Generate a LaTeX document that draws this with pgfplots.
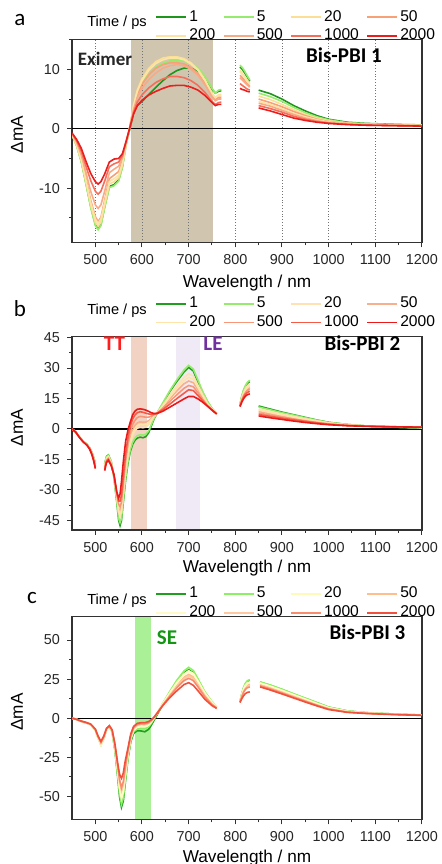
\documentclass[border=0pt]{standalone}
\usepackage{pgfplots}
\pgfplotsset{compat=1.18}
\usepackage{pgfplotstable}
\usepackage{fontspec}
\setmainfont{Liberation Sans}
\newfontfamily\calfont{Carlito}

\definecolor{axisgray}{RGB}{50,50,50}
\definecolor{ca1}{RGB}{30,150,30}
\definecolor{ca5}{RGB}{150,235,110}
\definecolor{ca20}{RGB}{253,222,150}
\definecolor{ca50}{RGB}{248,160,120}
\definecolor{ca200}{RGB}{253,228,165}
\definecolor{ca500}{RGB}{248,170,135}
\definecolor{ca1000}{RGB}{245,110,90}
\definecolor{ca2000}{RGB}{235,30,30}
\definecolor{cb1}{RGB}{30,160,30}
\definecolor{cb5}{RGB}{150,235,110}
\definecolor{cb20}{RGB}{255,225,180}
\definecolor{cb50}{RGB}{248,175,140}
\definecolor{cb200}{RGB}{255,228,170}
\definecolor{cb500}{RGB}{248,150,120}
\definecolor{cb1000}{RGB}{245,90,70}
\definecolor{cb2000}{RGB}{235,25,25}
\definecolor{cc1}{RGB}{30,160,30}
\definecolor{cc5}{RGB}{140,240,100}
\definecolor{cc20}{RGB}{255,250,185}
\definecolor{cc50}{RGB}{255,190,140}
\definecolor{cc200}{RGB}{255,250,200}
\definecolor{cc500}{RGB}{255,200,160}
\definecolor{cc1000}{RGB}{250,140,110}
\definecolor{cc2000}{RGB}{240,80,60}
\definecolor{bandA}{RGB}{208,198,175}
\definecolor{bandTT}{RGB}{242,210,195}
\definecolor{bandLE}{RGB}{240,234,246}
\definecolor{bandSE}{RGB}{170,240,150}

\pgfplotstableread{
nm s1 s5 s20 s50 s200 s500 s1000 s2000
450 -1.0 -1.0 -1.0 -1.0 -1.0 -0.9 -0.8 -0.7
460 -2.8 -2.9 -2.8 -2.6 -2.7 -2.3 -2.0 -1.8
470 -5.5 -5.6 -5.4 -5.0 -5.2 -4.4 -3.8 -3.3
480 -9.2 -9.3 -9.0 -8.4 -8.7 -7.4 -6.3 -5.5
490 -13.0 -13.2 -12.8 -12.0 -12.4 -10.5 -8.7 -7.5
500 -16.1 -16.3 -15.7 -14.8 -15.2 -12.8 -10.5 -8.9
506 -16.8 -17.0 -16.4 -15.6 -15.9 -13.4 -11.0 -9.3
512 -16.1 -16.3 -15.7 -14.9 -15.2 -12.8 -10.5 -8.9
520 -13.1 -13.3 -12.8 -12.0 -12.4 -10.5 -8.8 -7.6
530 -9.7 -9.9 -9.3 -8.4 -8.9 -7.4 -6.4 -5.6
540 -9.4 -9.6 -8.9 -7.8 -8.4 -6.8 -5.9 -5.1
550 -8.6 -8.8 -8.2 -7.2 -7.8 -6.3 -5.6 -5.0
558 -6.4 -6.5 -6.1 -5.4 -5.8 -4.9 -4.5 -4.2
566 -2.5 -2.7 -2.7 -2.5 -2.6 -2.3 -2.2 -2.1
574 0.0 0.2 0.3 0.3 0.3 0.3 0.2 0.2
582 2.7 3.5 4.0 3.6 3.9 3.3 2.8 2.5
590 3.9 5.8 6.5 5.8 6.3 5.3 4.5 3.9
600 4.6 7.6 8.4 7.5 8.1 6.8 5.7 4.8
615 5.8 9.3 10.2 9.1 9.9 8.3 6.9 5.7
630 7.0 10.4 11.3 10.2 11.0 9.4 7.8 6.3
645 8.1 11.0 11.9 10.8 11.6 10.2 8.4 6.8
660 9.1 11.4 12.1 11.1 11.9 10.6 8.8 7.2
675 9.8 11.5 12.1 11.1 11.9 10.8 8.8 7.3
690 10.2 11.4 11.8 10.9 11.6 10.6 8.6 7.3
705 10.2 11.0 11.1 10.3 10.9 10.0 8.1 7.0
720 9.7 10.2 10.0 9.3 9.8 9.0 7.3 6.5
735 8.6 8.8 8.3 7.7 8.1 7.4 6.1 5.6
750 6.7 6.8 6.0 5.6 5.9 5.4 4.6 4.4
757 6.0 6.0 5.3 4.9 5.2 4.7 4.1 3.9
764 6.3 6.5 5.7 5.3 5.6 5.0 4.4 4.1
770 6.4 6.6 5.8 5.3 5.6 5.0 4.5 4.1
790 nan nan nan nan nan nan nan nan
810 10.4 10.7 9.8 9.0 9.6 8.6 7.6 6.8
815 10.0 10.3 9.3 8.6 9.1 8.2 7.3 6.6
820 9.4 9.7 8.8 8.1 8.6 7.8 7.0 6.5
825 8.8 9.0 8.2 7.6 8.0 7.4 6.7 6.3
831 8.0 8.2 7.6 7.2 7.5 7.0 6.5 6.2
840 nan nan nan nan nan nan nan nan
850 6.5 6.0 5.5 5.0 4.6 4.3 3.9 3.5
875 5.9 5.4 4.9 4.4 4.1 3.8 3.4 3.0
900 5.0 4.6 4.1 3.7 3.4 3.1 2.8 2.4
925 3.9 3.6 3.2 2.9 2.6 2.4 2.1 1.8
950 3.0 2.7 2.4 2.2 2.0 1.8 1.6 1.4
975 2.2 2.0 1.8 1.6 1.5 1.35 1.2 1.1
1000 1.6 1.5 1.35 1.2 1.15 1.05 0.95 0.9
1040 1.1 1.0 0.95 0.9 0.85 0.8 0.75 0.7
1080 0.9 0.85 0.8 0.75 0.7 0.65 0.6 0.6
1120 0.8 0.75 0.7 0.65 0.6 0.6 0.55 0.55
1160 0.7 0.7 0.65 0.6 0.55 0.55 0.5 0.5
1200 0.65 0.6 0.6 0.55 0.5 0.5 0.45 0.45
}\dataA

\pgfplotstableread{
nm s1 s5 s20 s50 s200 s500 s1000 s2000
450 0 0 0 0 0 0 0 0
458 -1.5 -1.5 -1.5 -1.5 -1.5 -1.5 -1.5 -1.6
466 -4.0 -4.0 -4.0 -4.0 -4.0 -4.0 -4.1 -4.2
474 -6.0 -6.0 -6.1 -6.1 -6.1 -6.2 -6.3 -6.4
482 -7.5 -7.5 -7.6 -7.7 -7.6 -7.8 -7.9 -8.0
488 -9.3 -9.4 -9.5 -9.6 -9.5 -9.7 -9.8 -10.0
493 -11.7 -11.8 -12.0 -12.2 -12.1 -12.4 -12.6 -12.9
497 -14.5 -14.6 -14.9 -15.2 -15.0 -15.5 -15.8 -16.2
500 -17.0 -17.3 -17.8 -18.3 -18.0 -18.7 -19.0 -19.5
510 nan nan nan nan nan nan nan nan
520 -17.3 -17.5 -18.0 -18.5 -18.3 -19.0 -19.8 -20.5
524 -13.5 -13.8 -14.3 -14.8 -14.5 -15.3 -15.9 -16.5
528 -12.8 -13.0 -13.5 -14.0 -13.8 -14.5 -15.0 -15.5
534 -16.0 -16.0 -16.5 -17.0 -16.7 -17.3 -17.7 -18.0
540 -24.0 -23.8 -23.5 -23.2 -23.3 -23.0 -22.8 -22.5
546 -36.0 -35.0 -34.0 -33.0 -33.5 -32.0 -31.5 -31.0
550 -45.0 -44.0 -41.0 -39.0 -40.0 -37.0 -35.5 -34.0
553 -47.5 -46.0 -43.0 -40.5 -42.0 -38.3 -35.5 -32.0
556 -45.0 -44.0 -41.0 -38.5 -40.0 -36.0 -32.5 -26.0
560 -36.0 -35.0 -32.0 -30.0 -31.0 -27.0 -23.0 -16.0
565 -25.0 -24.0 -21.0 -19.0 -20.0 -15.5 -12.0 -6.0
570 -17.0 -16.0 -13.0 -10.5 -12.0 -7.0 -4.0 -0.5
575 -11.0 -10.0 -7.0 -4.5 -6.0 -1.5 1.5 3.5
580 -7.5 -6.5 -3.0 -0.5 -2.0 2.2 5.0 7.0
585 -5.5 -4.5 -0.8 1.8 0.3 4.3 6.9 8.8
590 -4.5 -3.3 0.4 3.0 1.6 5.6 8.0 9.7
596 -4.0 -2.8 0.8 3.5 2.2 6.2 8.5 9.9
602 -4.3 -3.0 0.6 3.3 2.0 6.0 8.2 9.7
608 -3.8 -2.6 0.9 3.4 2.2 5.8 7.8 9.3
614 -2.0 -1.0 2.0 4.0 3.0 5.8 7.4 8.7
620 1.5 2.2 4.0 5.2 4.6 6.3 7.2 8.0
626 5.0 5.4 6.2 6.6 6.4 7.1 7.4 7.6
632 7.6 7.8 7.7 7.7 7.7 7.7 7.7 7.6
645 12.5 13.0 11.8 11.0 11.4 10.3 9.6 8.8
660 18.5 19.0 16.8 15.0 15.9 13.7 12.3 10.8
675 23.5 24.3 21.3 18.8 20.0 16.9 15.0 12.8
690 28.0 29.0 25.3 22.2 23.8 20.0 17.6 14.8
700 30.3 31.3 27.2 23.6 25.4 21.4 19.3 16.0
710 28.5 29.5 26.0 22.8 24.4 20.8 18.9 16.0
720 23.0 24.0 21.5 19.3 20.4 17.8 16.5 14.8
730 18.0 18.5 17.0 15.6 16.3 14.6 13.9 13.2
740 13.5 13.8 12.8 12.2 12.5 11.6 11.4 11.3
750 10.0 10.2 9.8 9.5 9.6 9.3 9.3 9.3
760 7.5 7.6 7.5 7.5 7.5 7.4 7.4 7.4
785 nan nan nan nan nan nan nan nan
810 12.0 12.0 11.8 11.5 11.7 11.5 11.3 11.0
814 16.0 16.5 15.5 14.5 15.0 14.2 13.8 13.3
818 19.0 19.5 18.0 17.0 17.5 16.5 15.8 15.0
822 21.0 21.5 20.0 18.6 19.3 18.0 17.2 16.2
826 22.5 23.0 21.2 19.7 20.5 19.0 18.0 16.9
831 23.3 24.0 22.0 20.3 21.2 19.5 18.5 17.3
840 nan nan nan nan nan nan nan nan
850 11.3 10.8 9.8 8.6 9.3 7.8 7.1 6.4
875 9.8 9.4 8.6 7.5 8.1 6.8 6.2 5.5
900 8.3 8.0 7.3 6.4 6.9 5.8 5.3 4.7
925 7.0 6.8 6.2 5.4 5.8 4.9 4.5 3.9
950 5.7 5.5 5.0 4.4 4.7 4.0 3.7 3.2
975 4.4 4.3 4.0 3.5 3.7 3.2 3.0 2.6
1000 3.3 3.2 3.0 2.7 2.9 2.5 2.3 2.1
1040 2.2 2.2 2.1 1.9 2.0 1.8 1.7 1.6
1080 1.5 1.5 1.5 1.5 1.5 1.4 1.4 1.3
1120 1.0 1.1 1.1 1.2 1.1 1.2 1.2 1.1
1160 0.7 0.8 0.9 1.0 0.9 1.0 1.0 1.0
1200 0.5 0.6 0.7 0.9 0.8 0.9 0.9 0.9
}\dataB

\pgfplotstableread{
nm s1 s5 s20 s50 s200 s500 s1000 s2000
450 0 0 0 0 0 0 0 0
460 -0.8 -0.8 -0.8 -0.8 -0.8 -0.8 -0.8 -0.8
470 -2.1 -2.1 -2.1 -2.0 -2.1 -2.0 -2.0 -1.9
480 -3.0 -3.0 -3.0 -2.9 -3.0 -2.9 -2.8 -2.7
490 -4.1 -4.1 -4.1 -4.0 -4.1 -3.9 -3.9 -3.8
500 -7.6 -7.7 -7.7 -7.4 -7.6 -7.3 -7.2 -7.0
506 -12.6 -12.8 -12.9 -12.3 -12.7 -12.1 -11.9 -11.5
512 -16.8 -17.2 -17.3 -16.4 -17.0 -16.0 -15.6 -14.8
518 -13.0 -13.3 -13.4 -12.7 -13.2 -12.4 -12.1 -11.5
524 -7.3 -7.4 -7.4 -7.1 -7.3 -7.0 -6.8 -6.5
530 -5.3 -5.3 -5.2 -5.1 -5.2 -5.0 -4.9 -4.8
536 -8.8 -8.7 -8.5 -8.2 -8.4 -8.0 -7.8 -7.5
542 -20.5 -20.0 -19.3 -18.0 -18.8 -17.6 -17.2 -16.5
548 -38.0 -36.5 -34.5 -32.0 -33.5 -31.2 -30.5 -29.0
552 -50.5 -48.5 -45.5 -42.0 -44.0 -40.8 -39.5 -36.0
556 -57.0 -55.0 -51.5 -48.0 -50.0 -46.5 -44.5 -38.5
560 -53.0 -51.0 -47.5 -44.0 -46.0 -42.5 -40.5 -35.0
564 -42.0 -40.5 -38.0 -35.0 -36.5 -33.5 -31.5 -27.5
570 -26.0 -25.0 -23.5 -22.0 -23.0 -21.5 -20.5 -19.0
576 -15.0 -14.0 -13.0 -12.0 -12.6 -11.6 -11.0 -10.0
582 -9.8 -8.7 -7.8 -6.8 -7.4 -6.5 -6.0 -5.3
590 -8.0 -6.8 -5.8 -4.8 -5.4 -4.5 -4.0 -3.3
598 -8.2 -6.6 -5.5 -4.4 -5.0 -4.0 -3.6 -2.9
606 -8.7 -6.8 -5.6 -4.5 -5.1 -4.1 -3.6 -2.9
614 -7.2 -5.6 -4.6 -3.7 -4.2 -3.4 -2.9 -2.2
620 -4.5 -3.3 -2.6 -1.9 -2.3 -1.7 -1.4 -1.0
626 -1.3 -0.3 0.1 0.5 0.3 0.6 0.6 0.6
634 3.0 3.8 3.9 3.9 4.0 3.9 3.8 3.8
645 9.0 9.8 9.5 8.9 9.4 8.7 8.5 8.2
660 16.5 17.3 16.5 15.3 16.2 14.8 14.2 13.3
675 23.5 24.4 23.0 21.3 22.6 20.5 19.6 17.6
690 29.0 30.2 28.3 26.2 27.8 25.2 24.0 21.5
700 31.0 32.5 30.3 28.0 29.8 27.0 25.5 22.7
710 29.0 30.5 28.6 26.4 28.1 25.4 24.0 21.0
720 23.8 25.2 23.8 22.0 23.4 21.2 20.0 17.5
735 15.8 16.8 16.0 14.8 15.7 14.3 13.5 12.0
750 9.9 10.6 10.2 9.4 10.0 9.1 8.7 8.0
760 7.0 7.5 7.3 6.9 7.2 6.7 6.5 6.2
785 nan nan nan nan nan nan nan nan
810 10.5 10.5 10.5 10.3 10.4 10.3 10.2 10.0
814 15.5 15.8 15.3 14.5 15.0 14.2 13.8 12.5
818 19.5 20.0 19.0 17.8 18.7 17.3 16.7 14.5
822 22.0 22.5 21.3 20.0 21.0 19.3 18.5 15.8
826 23.5 24.0 22.6 21.2 22.2 20.4 19.5 16.5
831 24.2 24.6 23.2 21.8 22.8 21.0 20.0 16.8
842 nan nan nan nan nan nan nan nan
853 23.0 23.2 22.5 21.5 22.3 21.2 20.7 20.0
875 21.0 21.2 20.5 19.5 20.3 19.2 18.7 18.0
900 18.3 18.5 17.8 16.9 17.6 16.6 16.1 15.5
925 15.4 15.6 15.0 14.1 14.8 13.9 13.4 12.9
950 12.6 12.8 12.2 11.4 12.0 11.2 10.8 10.3
975 9.8 10.0 9.4 8.7 9.2 8.5 8.2 7.8
1000 7.0 7.1 6.7 6.2 6.6 6.1 5.8 5.5
1040 4.6 4.6 4.4 4.1 4.3 4.0 3.9 3.7
1080 3.5 3.5 3.4 3.2 3.4 3.2 3.1 3.0
1120 2.9 2.9 2.8 2.7 2.8 2.7 2.6 2.5
1160 2.4 2.4 2.3 2.2 2.3 2.2 2.2 2.1
1200 2.0 2.0 2.0 1.9 2.0 1.9 1.9 1.8
}\dataC

\pgfplotsset{
  common/.style={
    scale only axis, width=175pt,
    xmin=450, xmax=1200,
    xtick={500,600,...,1200}, minor x tick num=1,
    tick align=outside, tick pos=left,
    major tick length=2.5pt, minor tick length=1.5pt,
    axis line style={draw=axisgray, line width=0.6pt},
    every tick/.style={axisgray, line width=0.5pt},
    tick label style={font=\fontsize{7.2}{8}\selectfont, text=black!85},
    /pgf/number format/assume math mode=true,
    /pgf/number format/1000 sep={},
    scaled ticks=false,
    xlabel={Wavelength / nm}, ylabel={ΔmA},
    label style={font=\fontsize{8.6}{9}\selectfont},
    y label style={at={(axis description cs:-0.157,0.53)}, anchor=center},
    unbounded coords=jump,
    set layers,
    legend columns=4,
    legend cell align=left,
    legend style={draw=none, fill=none, anchor=north west, inner sep=0pt,
      font=\fontsize{7.8}{8.5}\selectfont,
      nodes={inner sep=1.2pt},
      /tikz/every even column/.append style={column sep=2.5pt}},
    legend image code/.code={\draw[#1] (0pt,0pt) -- (15pt,0pt);},
    every axis plot/.append style={line width=0.8pt},
  }
}

\begin{document}
\begin{tikzpicture}

% ---------------- panel a
\begin{axis}[common, at={(36pt,-19.65pt)}, anchor=north west, height=101.5pt,
  ymin=-19.1, ymax=15.05, ytick={-10,0,10}, minor ytick={-15,-5,5,15},
  xmajorgrids, grid style={densely dotted, black!55, line width=0.45pt},
  x label style={at={(axis description cs:0.5,-0.2)}, anchor=center},
  legend style={at={(axis description cs:0.237,1.157)}}]
\addplot[forget plot, on layer=axis background, draw=none, fill=bandA] coordinates {(576,-19.1) (752,-19.1) (752,15.05) (576,15.05)};
\addplot[forget plot, black, line width=0.65pt] coordinates {(450,0) (1200,0)};
\addplot[ca1] table[x=nm,y=s1] {\dataA};
\addplot[ca5] table[x=nm,y=s5] {\dataA};
\addplot[ca20] table[x=nm,y=s20] {\dataA};
\addplot[ca50] table[x=nm,y=s50] {\dataA};
\addplot[ca200] table[x=nm,y=s200] {\dataA};
\addplot[ca500] table[x=nm,y=s500] {\dataA};
\addplot[ca1000] table[x=nm,y=s1000] {\dataA};
\addplot[ca2000] table[x=nm,y=s2000] {\dataA};
\legend{1,5,20,50,200,500,1000,2000}
\end{axis}

% ---------------- panel b
\begin{axis}[common, at={(36pt,-168.35pt)}, anchor=north west, height=96.65pt,
  ymin=-49.7, ymax=45.4, ytick={-45,-30,...,45}, minor y tick num=1,
  x label style={at={(axis description cs:0.5,-0.195)}, anchor=center},
  legend style={at={(axis description cs:0.237,1.22)}}]
\addplot[forget plot, on layer=axis background, draw=none, fill=bandTT] coordinates {(576,-49.7) (610,-49.7) (610,45.4) (576,45.4)};
\addplot[forget plot, on layer=axis background, draw=none, fill=bandLE] coordinates {(673,-49.7) (724,-49.7) (724,45.4) (673,45.4)};
\addplot[forget plot, black, line width=0.65pt] coordinates {(450,0) (1200,0)};
\addplot[cb1] table[x=nm,y=s1] {\dataB};
\addplot[cb5] table[x=nm,y=s5] {\dataB};
\addplot[cb20] table[x=nm,y=s20] {\dataB};
\addplot[cb50] table[x=nm,y=s50] {\dataB};
\addplot[cb200] table[x=nm,y=s200] {\dataB};
\addplot[cb500] table[x=nm,y=s500] {\dataB};
\addplot[cb1000] table[x=nm,y=s1000] {\dataB};
\addplot[cb2000] table[x=nm,y=s2000] {\dataB};
\legend{1,5,20,50,200,500,1000,2000}
\end{axis}

% ---------------- panel c
\begin{axis}[common, at={(36pt,-308.35pt)}, anchor=north west, height=101.3pt,
  ymin=-64.7, ymax=64.9, ytick={-50,-25,0,25,50}, minor y tick num=1,
  x label style={at={(axis description cs:0.5,-0.19)}, anchor=center},
  legend style={at={(axis description cs:0.237,1.16)}}]
\addplot[forget plot, on layer=axis background, draw=none, fill=bandSE] coordinates {(585,-64.7) (619,-64.7) (619,64.9) (585,64.9)};
\addplot[forget plot, black, line width=0.65pt] coordinates {(450,0) (1200,0)};
\addplot[cc1] table[x=nm,y=s1] {\dataC};
\addplot[cc5] table[x=nm,y=s5] {\dataC};
\addplot[cc20] table[x=nm,y=s20] {\dataC};
\addplot[cc50] table[x=nm,y=s50] {\dataC};
\addplot[cc200] table[x=nm,y=s200] {\dataC};
\addplot[cc500] table[x=nm,y=s500] {\dataC};
\addplot[cc1000] table[x=nm,y=s1000] {\dataC};
\addplot[cc2000] table[x=nm,y=s2000] {\dataC};
\legend{1,5,20,50,200,500,1000,2000}
\end{axis}

% ---------------- texts
\node[font=\calfont\fontsize{11.5}{12}\selectfont] at (10pt,-10pt) {a};
\node[font=\calfont\fontsize{11.5}{12}\selectfont] at (10pt,-154.2pt) {b};
\node[font=\calfont\fontsize{11.5}{12}\selectfont] at (16pt,-299pt) {c};
\node[font=\fontsize{7.3}{8}\selectfont] at (58.5pt,-11.5pt) {Time / ps};
\node[font=\fontsize{7.3}{8}\selectfont] at (58.5pt,-155.35pt) {Time / ps};
\node[font=\fontsize{7.3}{8}\selectfont] at (58.5pt,-300.35pt) {Time / ps};
\node[font=\calfont\bfseries\fontsize{9.5}{10}\selectfont, text=black!85] at (52.5pt,-29.4pt) {Eximer};
\node[font=\calfont\bfseries\fontsize{10.5}{11}\selectfont] at (172pt,-27.5pt) {Bis-PBI 1};
\node[font=\calfont\bfseries\fontsize{10.5}{11}\selectfont, text={rgb,255:red,255;green,30;blue,30}] at (57.25pt,-172pt) {TT};
\node[font=\calfont\bfseries\fontsize{10.5}{11}\selectfont, text={rgb,255:red,112;green,48;blue,160}] at (106.5pt,-171.7pt) {LE};
\node[font=\calfont\bfseries\fontsize{10.5}{11}\selectfont] at (181.25pt,-171.7pt) {Bis-PBI 2};
\node[font=\calfont\bfseries\fontsize{10.5}{11}\selectfont, text={rgb,255:red,20;green,150;blue,20}] at (83.5pt,-319pt) {SE};
\node[font=\calfont\bfseries\fontsize{10.5}{11}\selectfont] at (183.75pt,-316.25pt) {Bis-PBI 3};

\pgfresetboundingbox
\useasboundingbox (0,0) rectangle (221pt,-432pt);
\end{tikzpicture}
\end{document}
